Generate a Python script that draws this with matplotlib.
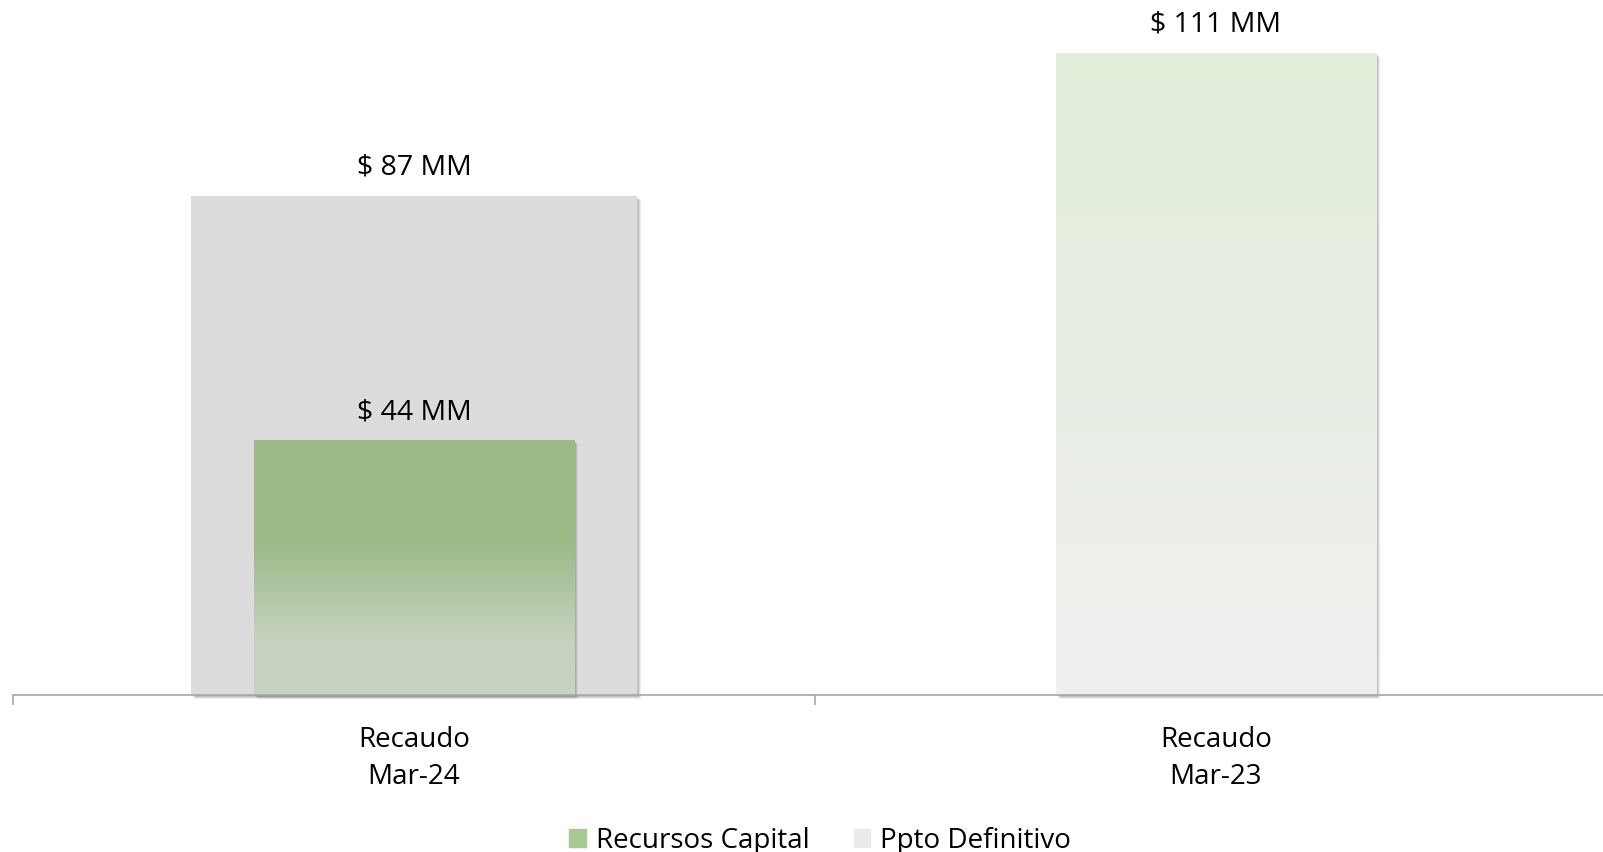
import numpy as np
import matplotlib.pyplot as plt
from matplotlib.patches import Rectangle
from matplotlib.colors import LinearSegmentedColormap

plt.rcParams['font.family'] = ['Open Sans', 'DejaVu Sans']

categories = ['Recaudo\nMar-24', 'Recaudo\nMar-23']
recursos_capital = [44.2, 111.4]
ppto_definitivo = [86.6]
labels_rc = ['$ 44 MM', '$ 111 MM']
labels_pd = ['$ 87 MM']

fig = plt.figure(figsize=(16.03, 8.52), dpi=100)
ax = fig.add_axes([13 / 1603, 1 - 695 / 852, 1604 / 1603, 692 / 852])
ax.set_xlim(-0.5, 1.5)
ax.set_ylim(0, 120)

px_x = 2.0 / 1604   # data units per pixel
px_y = 120 / 692


def shadow(b):
    x, y = b.get_x(), b.get_y()
    w, h = b.get_width(), b.get_height()
    for k, a in [(4, 0.10), (3, 0.15), (2, 0.2)]:
        ax.add_patch(Rectangle((x + k * px_x, y - k * px_y), w, h, color='#606060',
                               alpha=a, lw=0, zorder=b.get_zorder() - 0.5, clip_on=False))


def gradient(b, stops):
    cmap = LinearSegmentedColormap.from_list('g', stops)
    x, y = b.get_x(), b.get_y()
    w, h = b.get_width(), b.get_height()
    grad = np.linspace(1, 0, 256).reshape(-1, 1)
    im = ax.imshow(grad, cmap=cmap, aspect='auto', extent=[x, x + w, y, y + h],
                   origin='upper', zorder=b.get_zorder() + 0.1, vmin=0, vmax=1)
    im.set_clip_path(b)


# Ppto Definitivo (wide grey bar)
bars_pd = ax.bar([0], ppto_definitivo, width=0.556, color='#DCDCDC', zorder=2, lw=0)
for b, t in zip(bars_pd, labels_pd):
    shadow(b)
    ax.text(b.get_x() + b.get_width() / 2, b.get_height() + 28 * px_y, t,
            ha='center', va='center', fontsize=20.5)

# Recursos Capital
bars_rc = ax.bar([0, 1], recursos_capital, width=0.40, color='#9BBA87', zorder=4, lw=0)
gradient(bars_rc[0], [(0.0, '#C7D3C1'), (0.2, '#C7D3C1'), (0.6, '#9BBA87'), (1.0, '#9BBA87')])
gradient(bars_rc[1], [(0.0, '#F0F0EF'), (0.5, '#E8EEE4'), (1.0, '#E2EFDA')])
for b, t in zip(bars_rc, labels_rc):
    shadow(b)
    ax.text(b.get_x() + b.get_width() / 2, b.get_height() + 28 * px_y, t,
            ha='center', va='center', fontsize=20.5)

for s in ['top', 'right', 'left']:
    ax.spines[s].set_visible(False)
ax.spines['bottom'].set_color('#A6A6A6')
ax.spines['bottom'].set_linewidth(1.2)
ax.spines['bottom'].set_zorder(6)
ax.set_yticks([])
ax.set_xticks([0, 1])
ax.set_xticklabels(categories, fontsize=20, linespacing=1.45)
ax.tick_params(axis='x', which='major', length=0, pad=22)
ax.set_xticks([-0.5, 0.5, 1.5], minor=True)
ax.tick_params(axis='x', which='minor', length=7.5, width=1.2, color='#A6A6A6')

# legend
leg_h = [Rectangle((0, 0), 1, 1, color='#A9C997'), Rectangle((0, 0), 1, 1, color='#EBEBEB')]
fig.legend(leg_h, ['Recursos Capital', 'Ppto Definitivo'], loc='center',
           bbox_to_anchor=(0.5116, 1 - 841 / 852), ncol=2, frameon=False, fontsize=20,
           handlelength=0.6, handleheight=0.6, handletextpad=0.35, columnspacing=1.6)

plt.savefig('out.png', dpi=100)
